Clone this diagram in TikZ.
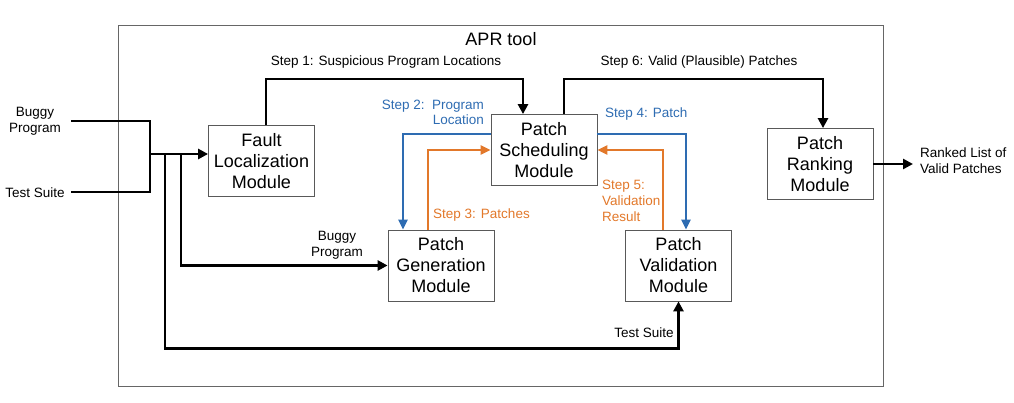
\documentclass[tikz,border=0pt]{standalone}
\usepackage{fontspec}
\setmainfont{Liberation Sans}
\usetikzlibrary{arrows.meta,calc}
\definecolor{stepblue}{RGB}{46,108,178}
\definecolor{steporange}{RGB}{226,120,42}
\begin{document}
\begin{tikzpicture}[x=1pt,y=-1pt,
  module/.style={draw=black!65, line width=0.8pt, minimum width=106pt, minimum height=71pt,
    align=center, font=\fontsize{18}{21}\selectfont, inner sep=0pt},
  lbl/.style={font=\fontsize{13.5}{16}\selectfont, inner sep=0pt},
  tip/.style={-{Triangle[length=10pt,width=10pt]}},
  flow/.style={line width=2.6pt, tip},
  plain/.style={line width=2.6pt},
  bflow/.style={line width=2.4pt, draw=stepblue, -{Triangle[length=10pt,width=9pt]}},
  oflow/.style={line width=2.4pt, draw=steporange, -{Triangle[length=10pt,width=9pt]}}]
\useasboundingbox (0,0) rectangle (1014,403);

% outer APR box
\node[draw=black!60, line width=0.8pt, minimum width=765pt, minimum height=361pt, inner sep=0pt] (apr) at (500.5,205.5) {};
\node[font=\fontsize{18}{21}\selectfont, inner sep=0pt] (title) at (501,39) {APR tool};

% modules
\node[module] (fault) at (261.5,161) {Fault\\Localization\\Module};
\node[module] (sched) at (544,150) {Patch\\Scheduling\\Module};
\node[module] (gen) at (441,265.5) {Patch\\Generation\\Module};
\node[module] (val) at (678.5,265.5) {Patch\\Validation\\Module};
\node[module] (rank) at (820,164) {Patch\\Ranking\\Module};

% inputs
\coordinate (bp) at (71,121);
\coordinate (ts) at (71,192);
\coordinate (j1) at (150,154);
\coordinate (j2) at (181,154);
\coordinate (j3) at (165,154);
\coordinate (top) at (0,79);
\node[lbl, align=center] (lbp) at (35,121) {Buggy\\Program};
\node[lbl] (lts) at (35,193) {Test Suite};
\draw[plain] (bp) -| (j1) |- (ts);
\draw[flow] (j1) -- (fault.west |- j1);
\draw[flow] (j2) |- (gen.west);
\draw[flow] (j3) |- ([yshift=-47pt]val.south) -- (val.south);
\node[lbl, align=center] (lbp2) at (337,245.5) {Buggy\\Program};
\node[lbl] (lts2) at (644,333) {Test Suite};

% step 1 and 6
\coordinate (s1a) at ([xshift=-21pt]sched.north);
\coordinate (s6a) at ([xshift=20pt]sched.north);
\coordinate (rk) at ([xshift=3pt]rank.north);
\draw[flow] ([xshift=4.5pt]fault.north) |- (s1a |- top) -- (s1a);
\draw[flow] (s6a) |- (rk |- top) -- (rk);
\node[lbl] (l1) at (386,62) {Step 1: Suspicious Program Locations};
\node[lbl] (l6) at (699,62) {Step 6: Valid (Plausible) Patches};

% coloured steps
\draw[bflow] ([yshift=16pt]sched.west) -| ([xshift=-38pt]gen.north);
\draw[oflow] ([xshift=-13pt]gen.north) |- (sched.west);
\draw[bflow] ([yshift=16pt]sched.east) -| ([xshift=7.5pt]val.north);
\draw[oflow] ([xshift=-15.5pt]val.north) |- (sched.east);
\node[lbl, text=stepblue, align=right, anchor=east, font=\fontsize{13.5}{15}\selectfont] (l2) at (484,112.5) {Step 2:\ \ Program\\Location};
\node[lbl, text=steporange, anchor=west] (l3) at (433,215) {Step 3: Patches};
\node[lbl, text=stepblue, anchor=west] (l4) at (605,114) {Step 4: Patch};
\node[lbl, text=steporange, align=left, anchor=west] (l5) at (602,200.5) {Step 5:\\Validation\\Result};

% output
\coordinate (out) at (913,164);
\draw[flow] (rank.east) -- (out);
\node[lbl, align=left, anchor=west] (lout) at (920,160.5) {Ranked List of\\Valid Patches};
\end{tikzpicture}
\end{document}
